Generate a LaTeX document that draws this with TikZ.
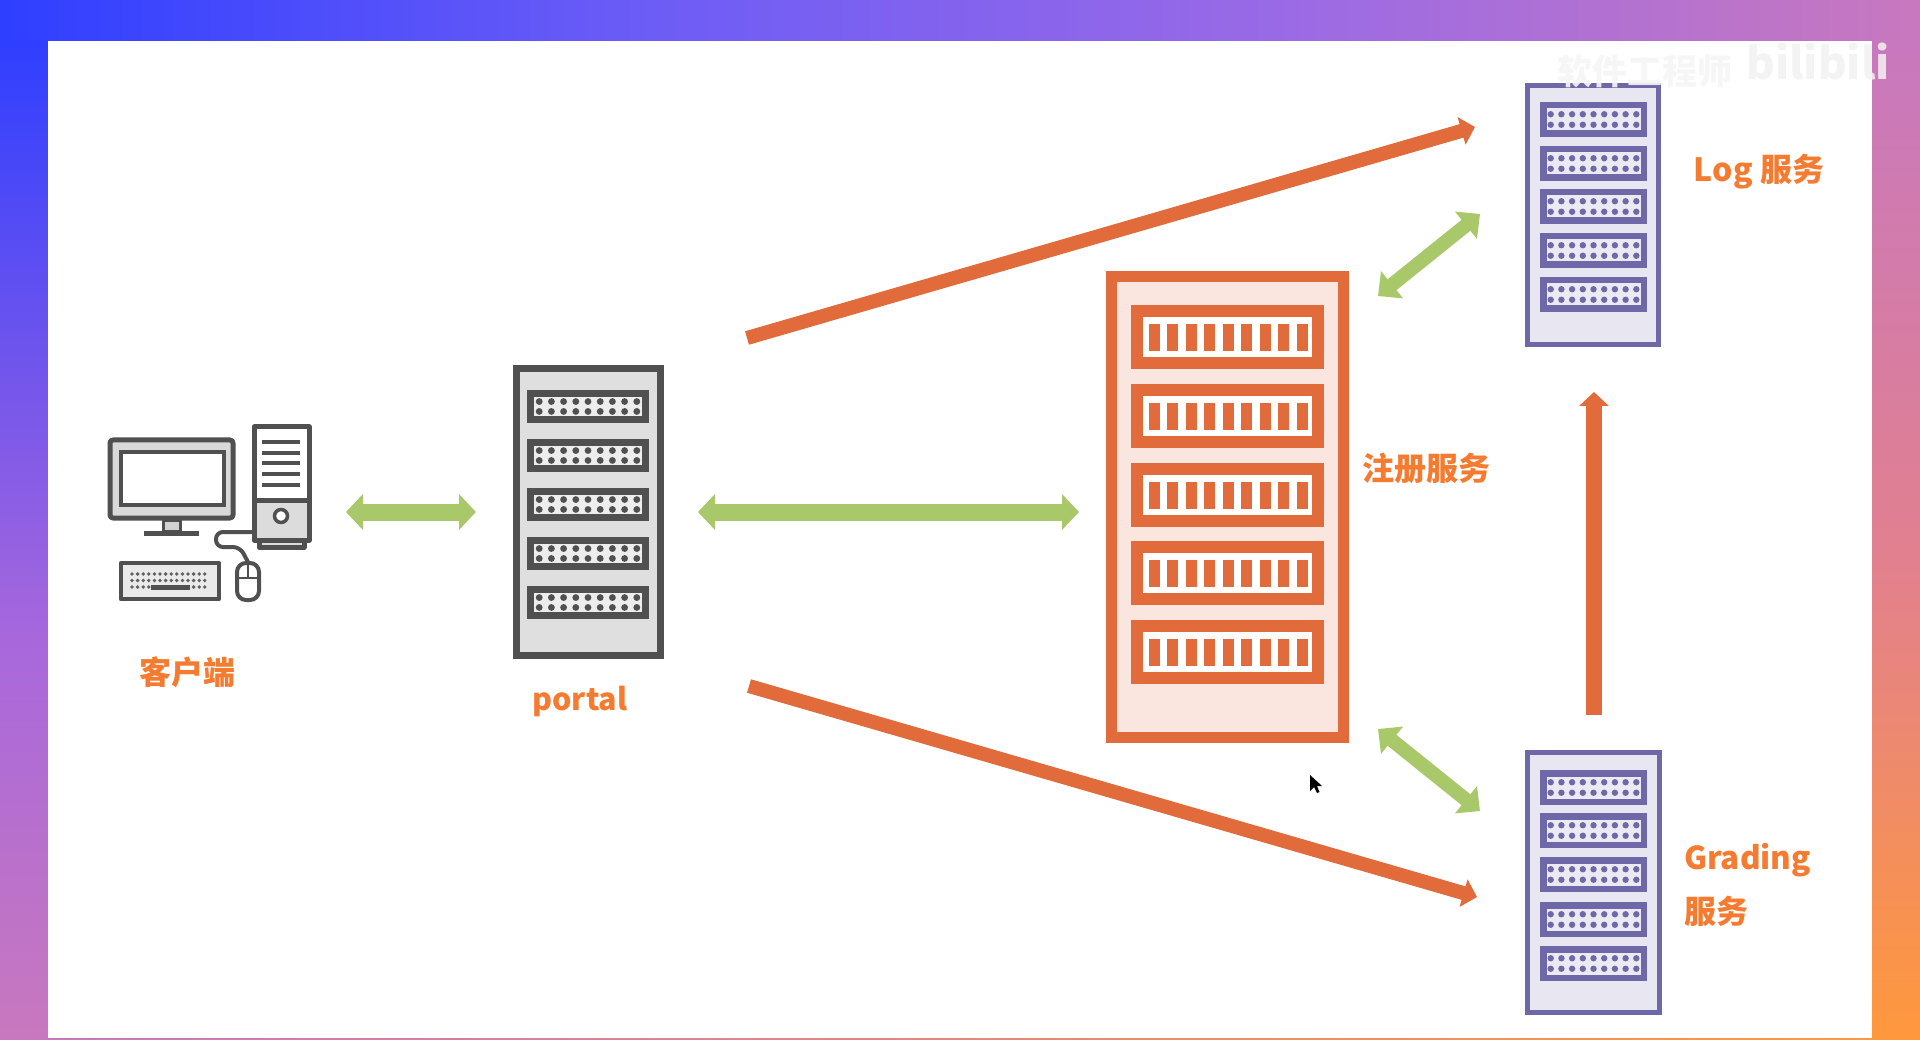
\documentclass[tikz,border=0pt]{standalone}
\usepackage{fontspec}
\setmainfont{Noto Sans CJK SC}
\usetikzlibrary{arrows.meta}
\definecolor{lbl}{HTML}{F47B30}
\definecolor{grn}{HTML}{A9C86A}
\definecolor{org}{HTML}{E26B3C}
\definecolor{gry}{HTML}{505050}
\definecolor{pur}{HTML}{6F68A8}
\tikzset{
  labeltext/.style={text=lbl,font=\bfseries\fontsize{#1}{#1}\selectfont,inner sep=0pt,anchor=center},
  greenarrow/.style={draw=grn,line width=17pt,{Triangle[length=17pt,width=35pt]}-{Triangle[length=17pt,width=35pt]}},
  greendiag/.style={draw=grn,line width=14pt,{Triangle[length=18pt,width=34pt]}-{Triangle[length=18pt,width=34pt]}},
  orgarrow/.style={draw=org,line width=14pt,-{Triangle[length=14pt,width=28pt]}},
  orgvert/.style={draw=org,line width=16pt,-{Triangle[length=14pt,width=29pt]}},
  pc/.style={draw=gry,line width=5pt,line join=round},
}
% #1 name, #2 left, #3 top, #4 right, #5 bottom, #6 border, #7 stroke, #8 fill
\newcommand\rackbox[8]{%
  \pgfmathsetmacro\rw{#4-#2-#6}\pgfmathsetmacro\rh{#5-#3-#6}%
  \node[draw=#7,fill=#8,line width=#6pt,minimum width=\rw pt,minimum height=\rh pt,inner sep=0pt,outer sep=0pt]
    (#1) at ({(#2+#4)/2},{(#3+#5)/2}) {};}
% slots with dots: #1 left, #2 right, #3 height, #4 border, #5 stroke, #6 inner, #7 tops, #8 dot radius
\newcommand\dotslots[8]{%
  \foreach \st in {#7}{%
    \draw[draw=#5,fill=#6,line width=#4pt] ({#1+#4/2},{\st+#4/2}) rectangle ({#2-#4/2},{\st+#3-#4/2});
    \foreach \i in {0,...,8}{\foreach \r in {0.35,0.65}{%
      \fill[#5] ({#1+(#2-#1)*(0.1+0.1*\i)},{\st+#3*\r}) circle (#8pt);}}
  }}
\begin{document}
\begin{tikzpicture}[x=1pt,y=-1pt]
\useasboundingbox (0,0) rectangle (1920,1040);
% background strips
\definecolor{c0}{HTML}{2F3FFF}\definecolor{c1}{HTML}{6C5CF6}\definecolor{c2}{HTML}{9A6AE6}
\definecolor{c4}{HTML}{C878BE}\definecolor{c5}{HTML}{E2808F}\definecolor{c6}{HTML}{FF983C}\definecolor{c7}{HTML}{A868DC}
\shade[left color=c0,right color=c1] (0,0) rectangle (640,41);
\shade[left color=c1,right color=c2] (640,0) rectangle (1280,41);
\shade[left color=c2,right color=c4] (1280,0) rectangle (1920,41);
\shade[top color=c0,bottom color=c7] (0,41) rectangle (48,640);
\shade[top color=c7,bottom color=c4] (0,640) rectangle (48,1040);
\shade[top color=c4,bottom color=c5] (1872,41) rectangle (1920,560);
\shade[top color=c5,bottom color=c6] (1872,560) rectangle (1920,1040);
\shade[left color=c4,right color=c6] (48,1037.5) rectangle (1872,1040);
\fill[white] (48,41) rectangle (1872,1038);

% client computer
\draw[pc,fill=gry!22,rounded corners=3pt] (110,440) rectangle (233,518);
\draw[draw=gry,line width=3.5pt,fill=white] (121,452) rectangle (224,505);
\draw[draw=gry,line width=3pt,fill=gry!25] (163,520) rectangle (180,531);
\draw[draw=gry,line width=5pt] (144,533) -- (199,533);
\draw[pc,fill=white] (254,427) rectangle (309,500);
\draw[pc,fill=gry!20] (254,500) rectangle (309,540);
\draw[pc,fill=gry!20] (259,540) rectangle (304,547);
\foreach \ly in {442,453,463,474,485}{\draw[draw=gry,line width=3.5pt] (262,\ly) -- (300,\ly);}
\draw[draw=gry,line width=3.5pt,fill=white] (281,516) circle (6.5pt);
\draw[draw=gry,line width=4pt,rounded corners=7pt] (252,532) -- (216,532) -- (216,547) -- (240,547) -- (248,562);
\draw[pc,line width=4.5pt,fill=gry!12] (121,563) rectangle (219,599);
\foreach \a in {0,...,13}{\foreach \b in {0,1,2}{\fill[gry!90] ({132+\a*5.6},{574+\b*6.5}) circle (1.9pt);}}
\fill[gry] (151,585) rectangle (190,590);
\draw[draw=gry,line width=4pt,fill=white,rounded corners=9pt] (237,563) rectangle (259,600);
\draw[draw=gry,line width=2.5pt] (237,578) -- (259,578) (248,563) -- (248,578);

% racks
\rackbox{portal}{513}{365}{664}{659}{7}{gry}{gry!18}
\dotslots{527}{649}{33}{7}{gry}{gry!10}{390,439,488,537,586}{3.4}
\rackbox{reg}{1106}{271}{1349}{743}{11}{org}{org!17}
\foreach \st in {305,384,463,541,620}{
  \draw[draw=org,fill=white,line width=12pt] (1137,\st+6) rectangle (1318,\st+58);
  \foreach \i in {0,...,8}{\fill[org] ({1148.5+18.5*\i},\st+19) rectangle ({1159.5+18.5*\i},\st+46);}
}
\rackbox{logsrv}{1525}{83}{1661}{347}{5}{pur}{pur!16}
\dotslots{1540}{1647}{35}{6.5}{pur}{pur!14}{102,146,189,233,277}{3.2}
\rackbox{gradesrv}{1525}{750}{1662}{1015}{5}{pur}{pur!16}
\dotslots{1540}{1647}{35}{6.5}{pur}{pur!14}{770,813,857,902,946}{3.2}

% connector ends
\coordinate (c1) at (346,512); \coordinate (p1) at (476,512);
\coordinate (p2) at (698,512); \coordinate (r1) at (1079,512);
\coordinate (r2) at (1378,296); \coordinate (l1) at (1480,214);
\coordinate (r3) at (1378,729); \coordinate (g1) at (1480,811);
\coordinate (p3) at (747,338); \coordinate (l2) at (1475,127);
\coordinate (p4) at (749,686); \coordinate (g2) at (1477,897);
\coordinate (g3) at (1594,715); \coordinate (l3) at (1594,392);

\draw[greenarrow] (c1) -- (p1);
\draw[greenarrow] (p2) -- (r1);
\draw[greendiag] (r2) -- (l1);
\draw[greendiag] (r3) -- (g1);
\draw[orgarrow] (p3) -- (l2);
\draw[orgarrow] (p4) -- (g2);
\draw[orgvert] (g3) -- (l3);

% labels
\node[labeltext=32] (t1) at (187,672) {客户端};
\node[labeltext=30.5] (t2) at (580,701) {portal};
\node[labeltext=32] (t3) at (1426,468) {注册服务};
\node[labeltext=32] (t4) at (1759,172) {Log 服务};
\node[labeltext=31.5,anchor=west] (t5) at (1684,860) {Grading};
\node[labeltext=32,anchor=west] (t6) at (1684,911) {服务};

% cursor
\fill[black] (1310,775) -- (1310,791) -- (1314,787) -- (1317,793) -- (1319.5,792) -- (1317,786) -- (1322,786) -- cycle;

% watermark
\node[text=white!93!gray,opacity=.9,font=\bfseries\fontsize{35}{35}\selectfont,inner sep=0pt] (w1) at (1645,71) {软件工程师};
\node[text=white!90!gray,opacity=.85,font=\bfseries\fontsize{44}{44}\selectfont,inner sep=0pt] (w2) at (1818,62) {bilibili};
\end{tikzpicture}
\end{document}
